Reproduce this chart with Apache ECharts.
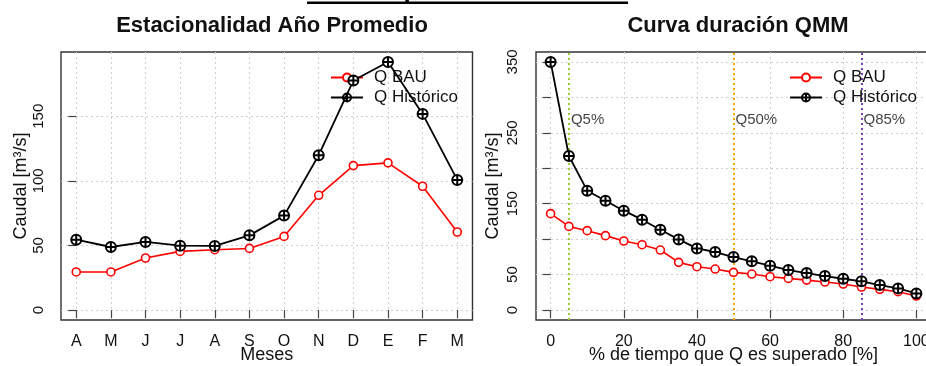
<!DOCTYPE html>
<html>
<head>
<meta charset="utf-8">
<script src="https://cdn.jsdelivr.net/npm/echarts@6/dist/echarts.min.js"></script>
<style>
  html, body { margin: 0; padding: 0; background: #fff; }
  #chart { width: 926px; height: 366px; }
</style>
</head>
<body>
<div id="chart"></div>
<script>
// Monthly mean flows (hydrological year, April to March)
const meses = ['A', 'M', 'J', 'J', 'A', 'S', 'O', 'N', 'D', 'E', 'F', 'M'];
const qBauMensual = [29.5, 29.5, 40.3, 45.4, 46.7, 47.7, 57.0, 88.8, 111.8, 113.9, 95.8, 60.4];
const qHistMensual = [54.5, 48.8, 52.7, 49.8, 49.6, 57.8, 73.1, 119.8, 177.6, 192.0, 151.8, 100.7];

// Flow duration curve (QMM)
const pctExcedencia = [0, 5, 10, 15, 20, 25, 30, 35, 40, 45, 50, 55, 60, 65, 70, 75, 80, 85, 90, 95, 100];
const qBauDuracion = [136, 118, 112, 105, 97.4, 92.2, 84.7, 67.3, 61.2, 57.9, 53.2, 50.8, 47.1, 44.7, 42.3, 39.5, 36.7, 32.5, 29.2, 25.9, 19.8];
const qHistDuracion = [350, 217.3, 168.4, 154.3, 140.2, 127.5, 113.4, 99.7, 87.0, 81.9, 74.8, 68.7, 62.6, 56.4, 52.2, 48.0, 44.2, 40.5, 35.3, 30.6, 23.5];

// Reference exceedance percentages
const umbralesPct = [5, 50, 85];
const umbralesTxt = ['Q5%', 'Q50%', 'Q85%'];

// Tick labels
const ticksMesY = [0, 50, 100, 150];
const ticksDurX = [0, 20, 40, 60, 80, 100];
const ticksDurY = [0, 50, 100, 150, 200, 250, 300, 350];
const etiquetasDurY = [0, 50, 150, 250, 350];

const FONT = '"Liberation Sans", Arial, Helvetica, sans-serif';
const umbralColores = ['#9ACD32', '#FFA500', '#7A3FBF'];
const circuloCruz = 'path://M10,0A10,10 0 1,1 10,20A10,10 0 1,1 10,0Z M0,10L20,10 M10,0L10,20';

const gridLine = { show: true, lineStyle: { color: '#cfcfcf', type: [2, 3], width: 1 } };
const tickStyle = { show: true, length: 8, inside: false, lineStyle: { color: '#444', width: 1.2 } };

function valueAxis(opts) {
  return Object.assign({
    type: 'value',
    axisLine: { show: false },
    nameLocation: 'middle',
    nameMoveOverlap: false,
    nameTextStyle: { fontFamily: FONT, fontSize: 18, color: '#111' }
  }, opts);
}

function legendBox(left, names) {
  return {
    orient: 'vertical', left: left, top: 64, itemWidth: 32, itemHeight: 10, itemGap: 3,
    data: names.map(n => ({ name: n })),
    textStyle: { fontFamily: FONT, fontSize: 17, color: '#111', padding: [0, 0, 0, 6] },
    selectedMode: false
  };
}

const chart = echarts.init(document.getElementById('chart'), null, { renderer: 'canvas' });

const option = {
  animation: false,
  backgroundColor: '#fff',
  textStyle: { fontFamily: FONT },
  title: [
    { text: 'Estacionalidad Año Promedio', left: 267, top: 10, textAlign: 'center',
      textStyle: { fontFamily: FONT, fontSize: 22, fontWeight: 'bold', color: '#111' } },
    { text: 'Curva duración QMM', left: 733, top: 10, textAlign: 'center',
      textStyle: { fontFamily: FONT, fontSize: 22, fontWeight: 'bold', color: '#111' } }
  ],
  graphic: [
    { type: 'text', x: 467, y: 4,
      style: { text: 'Río Maipo en El Manzano', font: 'bold 26px ' + FONT, fill: '#000',
        align: 'center', verticalAlign: 'bottom' } },
    { type: 'rect', shape: { x: 307, y: 1.5, width: 321, height: 2.5 }, style: { fill: '#000' } }
  ],
  legend: [
    legendBox(325, ['Q BAU', 'Q Histórico']),
    legendBox(784, ['Q BAU ', 'Q Histórico '])
  ],
  grid: [
    { left: 61, top: 52, width: 411.5, height: 268, show: true, borderColor: '#333', borderWidth: 1.4,
      backgroundColor: 'transparent', outerBoundsMode: 'none', containLabel: false },
    { left: 536, top: 52, width: 395, height: 268, show: true, borderColor: '#333', borderWidth: 1.4,
      backgroundColor: 'transparent', outerBoundsMode: 'none', containLabel: false }
  ],
  xAxis: [
    valueAxis({
      gridIndex: 0, min: -0.44, max: meses.length - 1 + 0.44,
      name: 'Meses', nameGap: 26,
      axisTick: Object.assign({ customValues: meses.map((_, i) => i) }, tickStyle),
      splitLine: Object.assign({ customValues: meses.map((_, i) => i) }, gridLine),
      axisLabel: { customValues: meses.map((_, i) => i), formatter: v => meses[Math.round(v)],
        margin: 14, fontSize: 16, color: '#111', fontFamily: FONT }
    }),
    valueAxis({
      gridIndex: 1, min: -4, max: 104,
      name: '% de tiempo que Q es superado [%]', nameGap: 26,
      axisTick: Object.assign({ customValues: ticksDurX }, tickStyle),
      splitLine: Object.assign({ customValues: ticksDurX }, gridLine),
      axisLabel: { customValues: ticksDurX, margin: 14, fontSize: 16, color: '#111', fontFamily: FONT }
    })
  ],
  yAxis: [
    valueAxis({
      gridIndex: 0, min: -7.68, max: 199.68,
      name: 'Caudal [m³/s]', nameGap: 31,
      axisTick: Object.assign({ customValues: ticksMesY }, tickStyle),
      splitLine: Object.assign({ customValues: ticksMesY }, gridLine),
      axisLabel: { customValues: ticksMesY, rotate: 90, margin: 15, fontSize: 15, color: '#111', fontFamily: FONT }
    }),
    valueAxis({
      gridIndex: 1, min: -14, max: 364,
      name: 'Caudal [m³/s]', nameGap: 34,
      axisTick: Object.assign({ customValues: ticksDurY }, tickStyle),
      splitLine: Object.assign({ customValues: ticksDurY }, gridLine),
      axisLabel: { customValues: etiquetasDurY, rotate: 90, margin: 16, fontSize: 15, color: '#111', fontFamily: FONT }
    })
  ],
  series: [
    {
      name: 'Q BAU', type: 'line', xAxisIndex: 0, yAxisIndex: 0,
      data: qBauMensual.map((v, i) => [i, v]),
      symbol: 'circle', symbolSize: 8, z: 3,
      lineStyle: { color: '#ff0000', width: 1.6 },
      itemStyle: { color: '#fff', borderColor: '#ff0000', borderWidth: 1.6 }
    },
    {
      name: 'Q Histórico', type: 'line', xAxisIndex: 0, yAxisIndex: 0,
      data: qHistMensual.map((v, i) => [i, v]),
      symbol: circuloCruz, symbolSize: 10, z: 4,
      lineStyle: { color: '#000', width: 1.8 },
      itemStyle: { color: '#fff', borderColor: '#000', borderWidth: 2 }
    },
    {
      name: 'Q BAU ', type: 'line', xAxisIndex: 1, yAxisIndex: 1,
      data: qBauDuracion.map((v, i) => [pctExcedencia[i], v]),
      symbol: 'circle', symbolSize: 8, z: 3,
      lineStyle: { color: '#ff0000', width: 1.6 },
      itemStyle: { color: '#fff', borderColor: '#ff0000', borderWidth: 1.6 },
      markLine: {
        silent: true, symbol: 'none', z: 1,
        label: { show: false },
        data: umbralesPct.map((p, k) => ({ xAxis: p, lineStyle: { color: umbralColores[k], type: [2, 3], width: 2 } }))
      }
    },
    {
      name: 'Q Histórico ', type: 'line', xAxisIndex: 1, yAxisIndex: 1,
      data: qHistDuracion.map((v, i) => [pctExcedencia[i], v]),
      symbol: circuloCruz, symbolSize: 10, z: 4,
      lineStyle: { color: '#000', width: 1.8 },
      itemStyle: { color: '#fff', borderColor: '#000', borderWidth: 2 }
    },
    {
      name: 'umbrales', type: 'scatter', xAxisIndex: 1, yAxisIndex: 1,
      data: umbralesPct.map(p => [p, 268]),
      symbolSize: 0, silent: true, z: 5,
      label: { show: true, position: 'right', distance: 2,
        formatter: p => umbralesTxt[p.dataIndex],
        fontFamily: FONT, fontSize: 15, color: '#111' }
    }
  ]
};

chart.setOption(option);
</script>
</body>
</html>
